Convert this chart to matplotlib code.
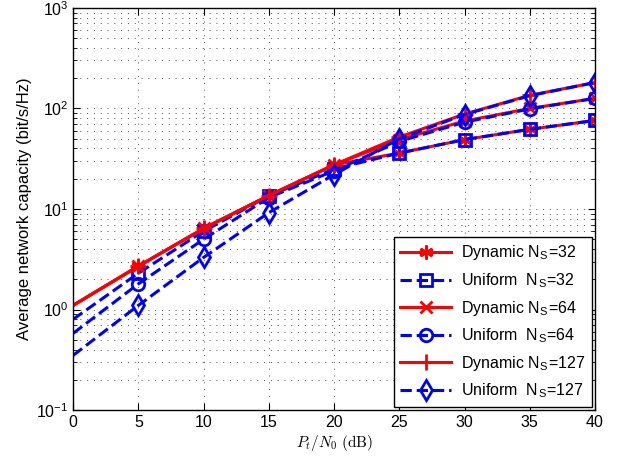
import matplotlib
matplotlib.use("Agg")
import matplotlib.pyplot as plt

plt.rcParams["font.family"] = ["Liberation Sans", "DejaVu Sans"]
plt.rcParams["mathtext.fontset"] = "cm"

snr = [0, 5, 10, 15, 20, 25, 30, 35, 40]

dyn_32 = [1.1, 2.7, 6.4, 13.6, 27.5, 36, 49, 62, 76]
uni_32 = [0.8, 2.3, 6.0, 13.5, 25, 36, 49, 62, 76]
dyn_64 = [1.1, 2.7, 6.4, 13.6, 27.5, 49, 75, 100, 126]
uni_64 = [0.58, 1.8, 5.0, 13.0, 24, 47, 73, 99, 126]
dyn_127 = [1.1, 2.7, 6.4, 13.6, 27.5, 52, 88, 135, 181]
uni_127 = [0.35, 1.1, 3.3, 9.2, 22, 50, 87, 134, 181]

fig = plt.figure(figsize=(6.25, 4.66), dpi=100)
ax = fig.add_axes([0.117, 0.12, 0.835, 0.863])

me = slice(1, None)
ax.plot(snr, dyn_32, "-", color="red", lw=2.2, marker=(6, 2, 0), ms=10, mew=2,
        markevery=me, label=r"Dynamic N$_\mathregular{S}$=32")
ax.plot(snr, uni_32, "--", color="blue", lw=2.2, marker="s", ms=8, mew=2, mfc="none",
        markevery=me, label=r"Uniform  N$_\mathregular{S}$=32")
ax.plot(snr, dyn_64, "-", color="red", lw=2.2, marker="x", ms=9, mew=2,
        markevery=me, label=r"Dynamic N$_\mathregular{S}$=64")
ax.plot(snr, uni_64, "--", color="blue", lw=2.2, marker="o", ms=9, mew=2, mfc="none",
        markevery=me, label=r"Uniform  N$_\mathregular{S}$=64")
ax.plot(snr, dyn_127, "-", color="red", lw=2.2, marker="+", ms=11, mew=2,
        markevery=me, label=r"Dynamic N$_\mathregular{S}$=127")
ax.plot(snr, uni_127, "--", color="blue", lw=2.2, marker="d", ms=10, mew=2, mfc="none",
        markevery=me, label=r"Uniform  N$_\mathregular{S}$=127")

ax.set_yscale("log")
ax.set_xlim(0, 40)
ax.set_ylim(0.1, 1000)
ax.set_xticks(range(0, 41, 5))

grid_style = dict(color="0.3", linestyle=(0, (1, 6)), lw=0.7)
ax.grid(True, which="major", axis="both", **grid_style)
ax.grid(True, which="minor", axis="y", **grid_style)
ax.tick_params(which="both", direction="in", top=True, right=True, labelsize=11.5)
ax.tick_params(which="major", length=5)
ax.tick_params(which="minor", length=3)
for s in ax.spines.values():
    s.set_linewidth(1.0)

ax.set_xlabel(r"$P_t/N_0\ \mathrm{(dB)}$", fontsize=11, labelpad=2)
ax.set_ylabel("Average network capacity (bit/s/Hz)", fontsize=12, labelpad=3)

leg = ax.legend(loc="lower right", fontsize=11.5, handlelength=3.2, framealpha=1,
                fancybox=False, edgecolor="black", borderaxespad=0.2,
                labelspacing=0.55, borderpad=0.4, handletextpad=0.6)
leg.get_frame().set_linewidth(1.0)

fig.savefig("out.png", dpi=100)
